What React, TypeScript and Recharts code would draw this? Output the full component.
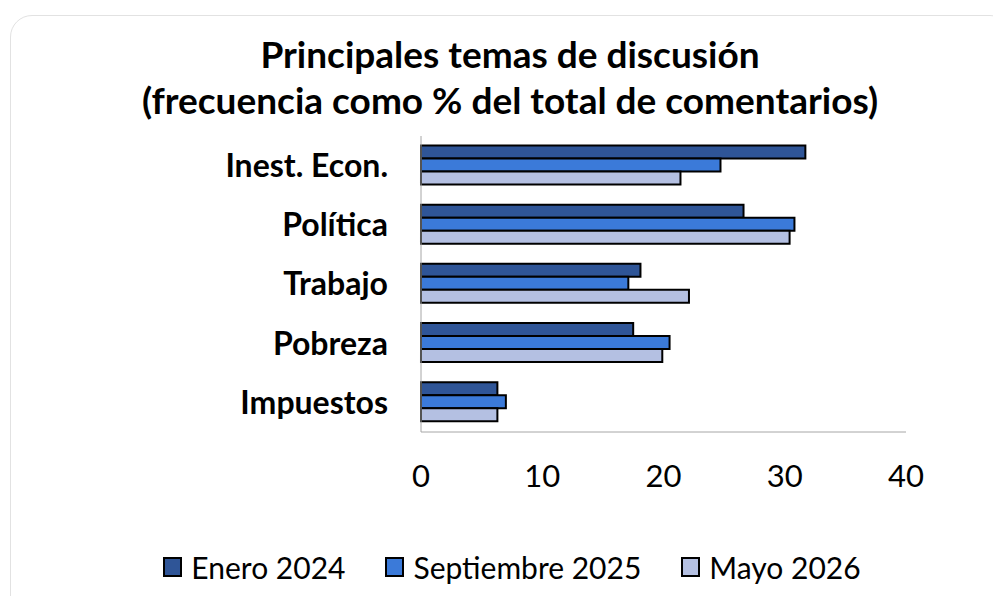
import { BarChart, Bar, XAxis, YAxis } from "recharts";

const categories = ["Inest. Econ.", "Política", "Trabajo", "Pobreza", "Impuestos"];
const enero2024 = [31.7, 26.6, 18.1, 17.5, 6.3];
const septiembre2025 = [24.7, 30.8, 17.1, 20.5, 7.0];
const mayo2026 = [21.4, 30.4, 22.1, 19.9, 6.3];
const xTicks = [0, 10, 20, 30, 40];

const series = [
  { key: "enero", name: "Enero 2024", color: "#2F5597" },
  { key: "sept", name: "Septiembre 2025", color: "#3B7AD9" },
  { key: "mayo", name: "Mayo 2026", color: "#B4C0E2" },
];

const data = categories.map((c, i) => ({
  cat: c,
  enero: enero2024[i],
  sept: septiembre2025[i],
  mayo: mayo2026[i],
}));

const FONT = "Lato, 'Open Sans', sans-serif";

export default function App() {
  return (
    <div
      style={{
        position: "absolute",
        left: 0,
        top: 0,
        width: 993,
        height: 596,
        overflow: "hidden",
        background: "#fff",
        fontFamily: FONT,
      }}
    >
      <div
        style={{
          position: "absolute",
          left: 10,
          top: 15,
          width: 1000,
          height: 620,
          border: "1px solid #e2e2e2",
          borderRadius: 22,
        }}
      />
      <div
        style={{
          position: "absolute",
          left: 0,
          top: 31,
          width: 1020,
          textAlign: "center",
          fontWeight: 700,
          fontSize: 37,
          lineHeight: "46px",
          color: "#000",
        }}
      >
        Principales temas de discusión
        <br />
        (frecuencia como % del total de comentarios)
      </div>

      <div style={{ position: "absolute", left: 0, top: 0 }}>
        <BarChart
          width={993}
          height={596}
          data={data}
          layout="vertical"
          margin={{ top: 136, right: 87, bottom: 0, left: 0 }}
          barGap={0}
          barCategoryGap="16%"
        >
          <XAxis
            type="number"
            domain={[0, 40]}
            ticks={xTicks}
            height={164}
            tickLine={false}
            axisLine={{ stroke: "#a6a6a6", strokeWidth: 1 }}
            tickMargin={27}
            tick={{ fill: "#000", fontSize: 31, fontFamily: FONT }}
          />
          <YAxis
            type="category"
            dataKey="cat"
            width={421}
            tickLine={false}
            axisLine={{ stroke: "#a6a6a6", strokeWidth: 1 }}
            tickMargin={27}
            tick={{ fill: "#000", fontSize: 32, fontWeight: 700, fontFamily: FONT }}
          />
          {series.map((s) => (
            <Bar
              key={s.key}
              dataKey={s.key}
              name={s.name}
              fill={s.color}
              stroke="#000"
              strokeWidth={2}
              isAnimationActive={false}
            />
          ))}
        </BarChart>
      </div>

      <div
        style={{
          position: "absolute",
          left: 0,
          top: 548,
          width: 1024,
          display: "flex",
          justifyContent: "center",
          gap: 40,
          fontSize: 30,
          lineHeight: "38px",
          color: "#000",
        }}
      >
        {series.map((s) => (
          <div key={s.key} style={{ display: "flex", alignItems: "center" }}>
            <span
              style={{
                display: "inline-block",
                width: 15,
                height: 16,
                background: s.color,
                border: "2px solid #000",
                marginRight: 9,
              }}
            />
            {s.name}
          </div>
        ))}
      </div>
    </div>
  );
}
